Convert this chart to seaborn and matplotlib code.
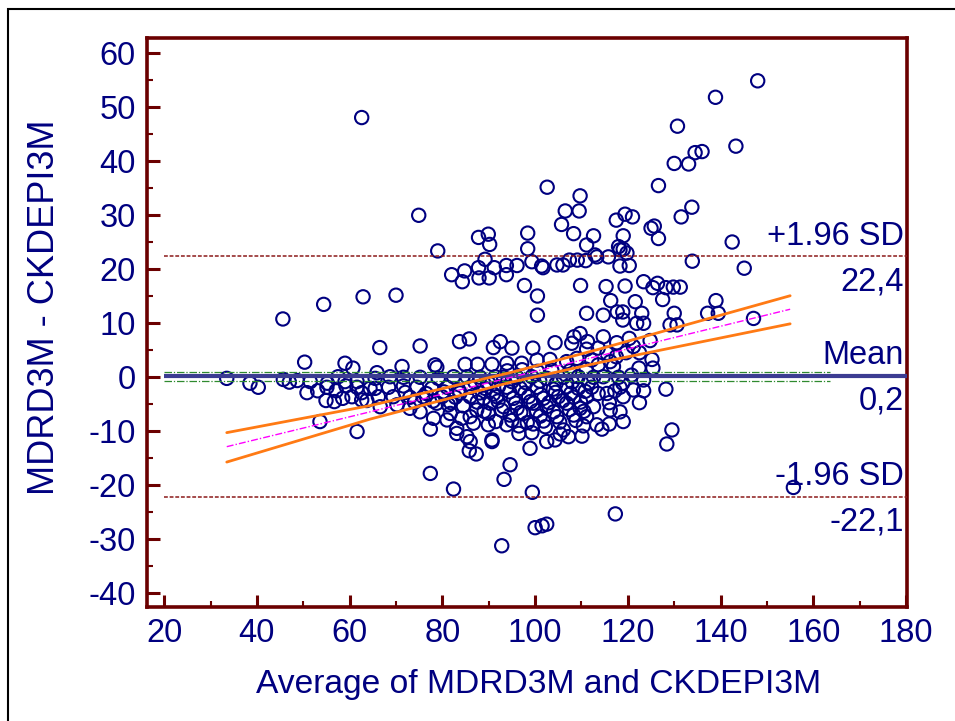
import matplotlib
matplotlib.use("Agg")
import matplotlib.pyplot as plt
from matplotlib.patches import Rectangle
from matplotlib.ticker import MultipleLocator
import seaborn as sns
import pandas as pd

# Bland-Altman data: average of the two eGFR equations vs. their difference
avg = [
    # upper half / outliers
    62.6, 74.9, 79.0, 45.6, 54.4, 62.9, 70.0, 87.8, 89.9, 90.2, 98.4, 98.4,
    89.2, 87.8, 91.2, 93.8, 96.1, 82.0, 84.8, 84.3, 87.9, 90.1, 93.8, 97.7,
    99.3, 101.4, 101.7, 100.5, 104.7, 106.0, 102.6, 105.7, 106.5, 109.5, 109.7,
    108.3, 109.1, 110.9, 112.6, 111.1, 112.9, 113.3, 109.8, 107.4, 130.0, 133.1,
    134.5, 136.0, 126.6, 133.8, 131.5, 117.5, 119.4, 121.0, 125.0, 125.7, 126.6,
    119.0, 118.0, 118.3, 119.0, 118.3, 120.3, 142.5, 133.9, 145.1, 115.8, 115.3,
    119.4, 123.4, 125.4, 126.4, 128.2, 129.8, 131.3, 130.7, 138.9, 148.0, 143.3,
    119.8,
    # right part of the cloud
    116.3, 121.6, 127.5, 139.0, 137.2, 139.5, 147.1, 117.7, 118.9, 118.9, 114.7,
    123.0, 121.9, 123.4, 130.0, 129.1, 130.6, 114.7, 117.6, 120.3, 121.2, 124.8,
    115.5, 117.5, 119.6, 122.5, 125.2, 125.4, 122.4, 123.4, 128.2, 123.4, 122.5,
    119.0, 117.2, 118.9, 115.5, 116.0, 116.2, 119.0, 116.0, 114.4, 129.5, 128.4,
    114.7, 118.0, 120.8, 116.9, 116.2, 118.3, 121.2, 118.3, 117.3, 155.7,
    # centre of the cloud
    100.5, 111.1, 92.5, 95.0, 99.5, 104.3, 107.9, 109.7, 108.4, 111.3, 111.1,
    113.6, 93.9, 97.1, 100.4, 103.2, 106.8, 109.0, 112.2, 113.6, 93.2, 96.1,
    99.3, 102.5, 106.1, 109.3, 112.6, 93.9, 96.8, 100.4, 103.9, 106.8, 109.3,
    112.2, 95.3, 98.6, 101.8, 105.0, 108.3, 111.1, 113.6, 93.2, 96.1, 99.6,
    102.5, 106.8, 109.7, 112.6, 94.6, 97.5, 101.1, 104.7, 108.3, 111.1, 93.9,
    96.5, 99.6, 102.2, 106.1, 110.4, 113.3, 96.5, 99.3, 105.4, 107.2, 110.1,
    102.5, 104.3, 98.9, 90.7, 94.6, 93.3, 99.4, 100.0, 101.5, 102.5, 92.8,
    # centre of the cloud, overlapping circles
    87.0, 90.0, 95.0, 98.0, 101.0, 104.5, 108.0, 111.5,
    88.0, 91.0, 94.5, 97.8, 101.2, 104.4, 107.7, 110.8,
    87.5, 92.0, 95.8, 99.0, 103.0, 106.0, 109.8,
    89.0, 92.8, 96.9, 100.3, 104.0, 107.4, 110.5,
    91.5, 95.0, 98.3, 101.8, 105.3, 108.8,
    94.0, 97.2, 100.5, 103.6, 107.5, 111.0,
    72.0, 76.5, 80.3, 83.8, 74.0, 78.0, 81.8,
    # left-centre of the cloud
    66.5, 75.2, 83.7, 85.8, 91.0, 65.9, 71.3, 78.4, 78.8, 84.9, 87.6, 90.7,
    65.5, 68.7, 71.6, 75.2, 79.1, 82.4, 85.3, 88.1, 91.4, 65.5, 68.4, 71.6,
    74.5, 77.7, 81.0, 83.5, 86.0, 89.2, 92.1, 66.2, 69.4, 73.0, 75.9, 79.9,
    82.8, 86.0, 88.9, 91.7, 66.6, 70.2, 73.0, 78.8, 81.3, 84.5, 87.4, 90.3,
    75.2, 81.7, 86.0, 89.9, 78.1, 81.0, 84.2, 86.7, 89.9, 83.1, 77.4, 83.1,
    85.3, 86.0, 90.7, 85.8, 87.3, 77.4, 82.4,
    # low-GFR tail
    50.3, 59.0, 60.7, 33.5, 38.5, 40.3, 45.7, 47.0, 48.7, 51.5, 55.2, 57.5,
    59.0, 61.6, 50.8, 53.1, 55.1, 57.1, 59.2, 61.6, 62.6, 64.4, 54.9, 56.7,
    58.5, 60.5, 62.6, 63.7, 53.6, 61.6,
]

diff = [
    # upper half / outliers
    48.1, 30.0, 23.4, 10.8, 13.5, 14.9, 15.2, 25.9, 26.5, 24.6, 26.7, 23.8,
    21.85, 20.3, 20.3, 20.7, 20.7, 19.0, 19.7, 17.7, 18.4, 18.4, 19.0, 17.0,
    21.4, 20.6, 20.3, 15.05, 20.8, 20.8, 35.2, 28.3, 30.8, 30.8, 33.6,
    26.6, 21.7, 21.6, 26.2, 24.5, 22.65, 22.3, 17.0, 21.7, 39.6, 39.5,
    41.6, 41.8, 35.5, 31.5, 29.7, 29.1, 30.2, 29.7, 27.6, 28.0, 25.7,
    26.2, 24.2, 23.6, 23.7, 20.6, 20.7, 25.05, 21.5, 20.2, 22.3, 16.8,
    16.9, 17.7, 16.6, 17.4, 16.6, 16.7, 16.7, 46.5, 51.85, 54.9, 42.8,
    23.0,
    # right part of the cloud
    14.2, 14.0, 14.4, 14.2, 11.85, 11.85, 10.9, 12.1, 12.1, 10.6, 11.5,
    11.85, 10.0, 10.0, 11.85, 9.7, 9.7, 7.5, 6.4, 7.2, 5.7, 6.8,
    4.45, 3.8, 4.55, 4.55, 3.3, 1.7, 1.7, -0.5, -2.2, -2.5, -4.7,
    -3.6, -2.5, -1.1, -3.0, -4.7, -6.05, -8.2, -8.65, -9.6, -9.75, -12.35,
    0.1, 0.0, 0.4, 2.0, 2.9, -1.85, -2.35, -6.4, -25.3, -20.4,
    # centre of the cloud
    11.5, 11.85, 6.6, 5.4, 5.4, 6.4, 6.3, 8.1, 7.5, 6.6, 5.2,
    5.4, 2.6, 2.6, 3.2, 3.3, 2.9, 3.5, 3.2, 2.3, 0.0, 0.0,
    0.1, -0.2, 0.0, 0.1, 0.0, -1.85, -2.05, -1.85, -2.2, -1.75, -2.05,
    -1.85, -3.9, -3.6, -3.9, -3.6, -3.7, -3.6, -3.0, -5.45, -5.75, -4.8,
    -5.45, -4.8, -5.75, -5.45, -7.0, -6.7, -7.2, -7.3, -7.0, -7.3, -8.8,
    -9.0, -8.65, -9.15, -9.75, -9.0, -8.8, -10.4, -10.25, -10.5, -11.0, -10.9,
    -11.9, -11.6, -13.15, -11.6, -16.2, -18.9, -21.3, -27.85, -27.5, -27.2, -31.2,
    # centre of the cloud, overlapping circles
    -0.9, -1.1, -0.8, -1.0, -0.7, -1.2, -0.9, -1.0,
    -2.9, -3.1, -2.7, -2.9, -3.2, -2.8, -3.0, -2.6,
    -4.6, -4.4, -4.8, -4.5, -4.7, -4.3, -4.6,
    -6.3, -6.1, -6.5, -6.2, -6.4, -6.0, -6.3,
    -8.2, -8.0, -8.4, -8.1, -8.3, -8.0,
    1.2, 1.4, 1.1, 1.3, 1.2, 1.5,
    -2.8, -3.0, -2.7, -2.9, -4.6, -4.4, -4.7,
    # left-centre of the cloud
    5.5, 5.8, 6.6, 7.1, 5.5, 0.85, 2.0, 2.3, 1.85, 2.4, 2.4, 2.4,
    -0.2, 0.1, 0.0, 0.0, -0.2, 0.1, 0.1, 0.0, 0.1, -2.05, -1.85, -1.6,
    -1.85, -2.05, -1.85, -2.35, -1.85, -2.05, -1.75, -3.6, -3.6, -3.7, -3.6, -3.6,
    -3.7, -3.6, -3.9, -3.6, -5.45, -5.1, -5.75, -4.8, -5.1, -5.3, -6.05, -4.8,
    -6.4, -6.7, -7.3, -6.7, -7.6, -7.9, -7.6, -8.5, -8.8, -9.45, -9.6, -10.4,
    -11.0, -11.9, -11.9, -13.6, -14.2, -17.8, -20.7,
    # low-GFR tail
    2.8, 2.6, 1.7, -0.2, -1.1, -1.85, -0.4, -0.9, -0.6, -0.8, -1.1, 0.1,
    -0.8, -0.8, -2.85, -2.5, -1.85, -2.5, -1.6, -1.85, -2.85, -2.05, -4.3, -4.5,
    -3.9, -3.6, -4.2, -4.3, -8.2, -10.05,
]

# Summary statistics shown on the plot
mean_diff = 0.2
upper_loa = 22.4
lower_loa = -22.1
mean_ci = [-0.7, 1.05]

# Regression of difference on average with its 95% confidence band
band_x = [33.5, 64.4, 94.6, 114.0, 155.0]
band_fit = [-12.85, -6.4, -0.05, 4.0, 12.6]
band_upper = [-10.25, -5.25, 0.85, 5.25, 15.1]
band_lower = [-15.7, -7.75, -0.95, 2.75, 9.9]

x_label = "Average of MDRD3M and CKDEPI3M"
y_label = "MDRD3M - CKDEPI3M"

NAVY = "#000080"
FRAME = "#6b0000"

sns.set_theme(style="white")
plt.rcParams["font.family"] = ["Liberation Sans", "DejaVu Sans"]
plt.rcParams["axes.unicode_minus"] = False

fig = plt.figure(figsize=(9.55, 7.21), dpi=100)
ax = fig.add_axes([147 / 955, 1 - 607 / 721, 760 / 955, 569 / 721])

df = pd.DataFrame({"avg": avg, "diff": diff})
sns.scatterplot(data=df, x="avg", y="diff", ax=ax, marker="o", s=92,
                facecolors="none", edgecolor=NAVY, linewidth=1.5, zorder=3)

x_lo, x_hi = 16.3, 180.2
# mean difference and its confidence interval
ax.hlines(mean_diff, 20, x_hi, color="#3c3c92", lw=3.0, zorder=4)
ax.hlines(mean_ci, 20, 163.6, color="#2f8a2f", lw=0.9,
          linestyles=(0, (6, 1.5, 1, 1.5)), zorder=4)
# limits of agreement
ax.hlines([upper_loa, lower_loa], 20, x_hi, color="#8b1a1a", lw=1.1,
          linestyles=(0, (2.5, 1.2)), zorder=4)
# regression line and confidence band
ax.plot(band_x, band_fit, color="#ff00ff", lw=1.0,
        linestyle=(0, (5, 1.5, 1, 1.5)), zorder=5)
ax.plot(band_x, band_upper, color="#ff7a14", lw=2.0, zorder=5)
ax.plot(band_x, band_lower, color="#ff7a14", lw=2.0, zorder=5)

ax.set_xlim(x_lo, x_hi)
ax.set_ylim(-42.54, 62.83)
ax.xaxis.set_minor_locator(MultipleLocator(10))
ax.yaxis.set_minor_locator(MultipleLocator(5))
ax.set_xticks([v for v in range(20, 181, 20)])
ax.set_yticks([v for v in range(-40, 61, 10)])

ax.tick_params(which="major", direction="in", length=9, width=2.2,
               color=FRAME, labelcolor=NAVY, labelsize=23.5, pad=8,
               bottom=True, left=True, top=False, right=False)
ax.tick_params(which="minor", direction="in", length=4.5, width=1.5,
               color=FRAME, bottom=True, left=True, top=False, right=False)
for sp in ax.spines.values():
    sp.set_color(FRAME)
    sp.set_linewidth(2.6)
ax.set_xlabel("")
ax.set_ylabel("")

# labels for the reference lines
tr = ax.get_yaxis_transform()
x_txt = 0.9955
for yv, top_txt, bot_txt in [(upper_loa, "+1.96 SD", "22,4"),
                             (mean_diff, "Mean", "0,2"),
                             (lower_loa, "-1.96 SD", "-22,1")]:
    ax.annotate(top_txt, xy=(x_txt, yv), xycoords=tr, xytext=(0, 8.5),
                textcoords="offset points", ha="right", va="baseline",
                color=NAVY, fontsize=23.5, zorder=6)
    ax.annotate(bot_txt, xy=(x_txt, yv), xycoords=tr, xytext=(0, -7),
                textcoords="offset points", ha="right", va="top",
                color=NAVY, fontsize=23.5, zorder=6)

fig.text(539 / 955, 1 - 685 / 721, x_label, ha="center", va="center",
         color=NAVY, fontsize=24.2)
fig.text(45 / 955, 1 - 307 / 721, y_label, ha="center", va="center",
         rotation=90, color=NAVY, fontsize=26)

# outer frame of the figure
fig.patches.append(Rectangle((7.5 / 955, -0.05), 1.2, 1 - 9.5 / 721 + 0.05,
                             transform=fig.transFigure, fill=False,
                             edgecolor="black", lw=1.5))

fig.savefig("out.png", dpi=100)
